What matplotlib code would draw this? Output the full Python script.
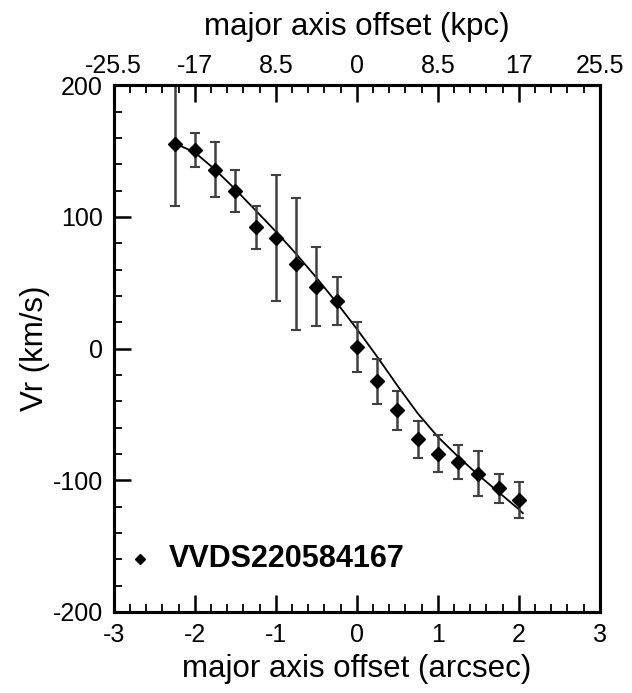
import matplotlib
matplotlib.use("Agg")
import matplotlib.pyplot as plt
from matplotlib.ticker import MultipleLocator

plt.rcParams['font.family'] = ['Liberation Sans', 'DejaVu Sans']
plt.rcParams['axes.unicode_minus'] = False

# 观测数据：沿长轴的速度
offset = [-2.25, -2.0, -1.75, -1.5, -1.25, -1.0, -0.75, -0.5, -0.25,
          0.0, 0.25, 0.5, 0.75, 1.0, 1.25, 1.5, 1.75, 2.0]
vr = [155, 151, 136, 120, 92, 84, 64, 47, 36,
      1, -25, -47, -69, -80, -86, -95, -106, -115]
vr_err = [47, 13, 21, 16, 16, 48, 50, 30, 18,
          19, 17, 15, 14, 14, 13, 17, 11, 14]

# 模型曲线
model_offset = [-2.25, -2.0, -1.75, -1.5, -1.25, -1.0, -0.75, -0.5, -0.25,
                0.0, 0.25, 0.5, 0.75, 1.0, 1.25, 1.5, 1.75, 2.0, 2.05]
model_vr = [156, 149, 136, 121, 105, 89, 72, 54, 35,
            15, -6, -28, -49, -67, -82, -96, -109, -122, -125]

arcsec_ticks = [-3, -2, -1, 0, 1, 2, 3]
kpc_labels = ['-25.5', '-17', '8.5', '0', '8.5', '17', '25.5']

fig = plt.figure(figsize=(6.32, 6.93), dpi=100)
ax = fig.add_axes([0.180, 0.117, 0.769, 0.760])

ax.plot(model_offset, model_vr, color='black', lw=1.3, zorder=2)
ax.errorbar(offset, vr, yerr=vr_err, fmt='none', ecolor='0.25',
            elinewidth=1.8, capsize=3.5, capthick=1.5, zorder=3)
ax.plot(offset, vr, 'D', color='black', ms=7, zorder=4)
ax.plot([-2.67], [-160], 'D', color='black', ms=5.5)
ax.text(-2.32, -160, 'VVDS220584167', fontsize=22, fontweight='bold',
        va='center', ha='left')

ax.set_xlim(-3, 3)
ax.set_ylim(-200, 200)
ax.set_xticks(arcsec_ticks)
ax.set_yticks([-200, -100, 0, 100, 200])
ax.xaxis.set_minor_locator(MultipleLocator(0.2))
ax.yaxis.set_minor_locator(MultipleLocator(20))
ax.tick_params(which='major', direction='in', length=12, width=1.8,
               labelsize=18, pad=8, top=False, right=False)
ax.tick_params(which='minor', direction='in', length=6, width=1.3,
               top=False, right=False)
ax.set_xlabel('major axis offset (arcsec)', fontsize=22.5, labelpad=5)
ax.set_ylabel('Vr (km/s)', fontsize=22.5, labelpad=2)

# 上方 kpc 坐标
ax2 = ax.twiny()
ax2.set_xlim(-3, 3)
ax2.set_xticks(arcsec_ticks)
ax2.set_xticklabels(kpc_labels)
ax2.xaxis.set_minor_locator(MultipleLocator(0.2))
ax2.tick_params(which='major', direction='in', length=12, width=1.8,
                labelsize=18, pad=5)
ax2.tick_params(which='minor', direction='in', length=6, width=1.3)
ax2.set_xlabel('major axis offset (kpc)', fontsize=22.5, labelpad=14)

for a in (ax, ax2):
    for s in a.spines.values():
        s.set_linewidth(2.2)

fig.savefig('out.png', dpi=100)
